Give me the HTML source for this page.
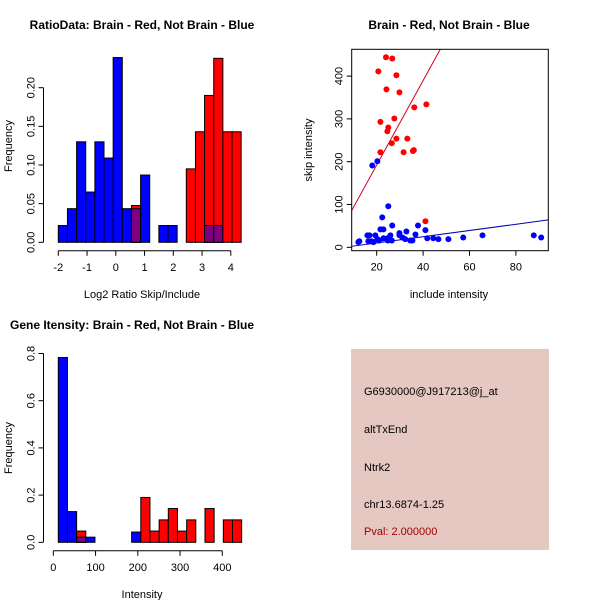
<!DOCTYPE html>
<html><head><meta charset="utf-8"><style>
body{margin:0;background:#fff}
svg{display:block;font-family:"Liberation Sans",sans-serif}
</style></head><body>
<svg id="c" width="600" height="600" viewBox="0 0 600 600" xmlns="http://www.w3.org/2000/svg">
<rect x="0" y="0" width="600" height="600" fill="#fff"/>
<text x="142" y="29" font-size="12" font-weight="bold" text-anchor="middle">RatioData: Brain - Red, Not Brain - Blue</text>
<text x="449" y="29" font-size="12" font-weight="bold" text-anchor="middle">Brain - Red, Not Brain - Blue</text>
<text x="10" y="329" font-size="12" font-weight="bold">Gene Itensity: Brain - Red, Not Brain - Blue</text>
<g>
<rect x="351" y="349" width="198" height="201" fill="#e6c8c2"/>
<g font-size="11">
<text x="364" y="395">G6930000@J917213@j_at</text>
<text x="364" y="433">altTxEnd</text>
<text x="364" y="471">Ntrk2</text>
<text x="364" y="508">chr13.6874-1.25</text>
<text x="364" y="535" fill="#a00000">Pval: 2.000000</text>
</g></g>
<g id="g1"></g>
<g id="g2"></g>
<g id="g3"></g>
</svg>
<script>
// ---- Ratio histogram data ----
const ratioBinStart = -2;
const ratioBinWidth = 0.318;
const ratioBlue = [0.0217,0.0435,0.130,0.065,0.130,0.109,0.239,0.0435,0.0435,0.087,0,0.0217,0.0217,0,0,0,0.0217,0.0217,0,0];
const ratioRed  = [0,0,0,0,0,0,0,0,0.0476,0,0,0,0,0,0.095,0.143,0.190,0.238,0.143,0.143];
const ratioXTicks = [-2,-1,0,1,2,3,4];
const ratioYTicks = [0,0.05,0.10,0.15,0.20];
const ratioYLabels = ["0.00","0.05","0.10","0.15","0.20"];
// ---- Scatter data ----
const redX = [24.0,26.7,20.7,28.5,24.2,29.8,36.2,41.4,21.6,27.6,25.0,24.6,28.5,33.2,26.5,21.6,31.6,35.6,36.0,41.0];
const redY = [444,441,411,402,369,362,327,334,293,301,280,271,254,254,243,222,222,225,227,61];
const blueX = [18.1,20.3,25.0,22.4,26.7,37.8,21.6,22.9,41.0,32.8,36.7,29.8,29.8,25.9,16.0,16.9,19.4,87.7,65.6,90.9,57.3,31.1,41.8,44.4,46.6,50.9,22.9,24.6,32.3,34.5,35.4,26.5,24.8,21.1,17.7,12.5,12.1,18.6,16.4,20.3];
const blueY = [191,201,96,70,51,51,42,42,40,37,30,33,28,28,28,28,28,28,28,23,23,23,21,21,19,19,21,21,19,16,16,16,16,16,14,14,12,12,14,19];
const fitIntercepts = [-5.2,-4.4];
const fitSlopes = [9.87,0.728];
const scatterXTicks = [20,40,60,80];
const scatterYTicks = [0,100,200,300,400];
// ---- Intensity histogram data ----
const intBinStart = 11.8;
const intBinWidth = 21.7;
const intBlue = [0.783,0.130,0.0217,0.0217,0,0,0,0,0.0435,0,0,0,0,0,0,0,0,0,0,0];
const intRed  = [0,0,0.0476,0,0,0,0,0,0,0.190,0.0476,0.095,0.143,0.0476,0.095,0,0.143,0,0.095,0.095];
const intXTicks = [0,100,200,300,400];
const intYTicks = [0,0.2,0.4,0.6,0.8];
const intYLabels = ["0.0","0.2","0.4","0.6","0.8"];

const NS="http://www.w3.org/2000/svg";
function mk(parent,tag,attrs,text){const e=document.createElementNS(NS,tag);for(const k in attrs)e.setAttribute(k,attrs[k]);if(text!==undefined)e.textContent=text;parent.appendChild(e);return e;}

function histogram(g,o){
  const sx=v=>o.x0+(v-o.vx0)*o.kx, sy=v=>o.y0-v*o.ky;
  for(let i=0;i<o.blue.length;i++){
    const a=o.start+i*o.width,b=a+o.width;
    const layers=[];
    if(o.blue[i]>0)layers.push([o.blue[i],"#0000ff"]);
    if(o.red[i]>0)layers.push([o.red[i],"#ff0000"]);
    if(o.blue[i]>0&&o.red[i]>0)layers.push([Math.min(o.blue[i],o.red[i]),"#7f007f"]);
    layers.forEach(L=>{
      const r=mk(g,"rect",{x:sx(a),y:sy(L[0]),width:sx(b)-sx(a),height:sy(0)-sy(L[0]),fill:L[1],stroke:"#000","stroke-width":1});
      
      
    });
  }
  const ax=o.y0+8.5;
  const xl=mk(g,"line",{x1:sx(o.xt[0]),x2:sx(o.xt[o.xt.length-1]),y1:ax,y2:ax,stroke:"#000"});
  
  
  o.xt.forEach(t=>{
    mk(g,"line",{x1:sx(t),x2:sx(t),y1:ax,y2:ax+5,stroke:"#000"});
    const tx=mk(g,"text",{x:sx(t),y:ax+20,"font-size":11,"text-anchor":"middle"},String(t));
    
    
  });
  const yx=o.yAxisX;
  const yl=mk(g,"line",{x1:yx,x2:yx,y1:sy(o.yt[0]),y2:sy(o.yt[o.yt.length-1]),stroke:"#000"});
  
  
  o.yt.forEach((t,i)=>{
    mk(g,"line",{x1:yx-5,x2:yx,y1:sy(t),y2:sy(t),stroke:"#000"});
    const tx=mk(g,"text",{x:yx-9,y:sy(t),"font-size":11,"text-anchor":"middle",transform:`rotate(-90 ${yx-9} ${sy(t)})`},o.yl[i]);
    
    
  });
  const xt=mk(g,"text",{x:o.xlabX,y:o.xlabY,"font-size":11,"text-anchor":"middle"},o.xlab);
  
  
  const yt=mk(g,"text",{x:12,y:o.ylabY,"font-size":11,"text-anchor":"middle",transform:`rotate(-90 12 ${o.ylabY})`},"Frequency");
  
  
}

histogram(document.getElementById("g1"),{blue:ratioBlue,red:ratioRed,start:ratioBinStart,width:ratioBinWidth,
  x0:58.3,vx0:-2,kx:28.75,y0:242.3,ky:773,xt:ratioXTicks,yt:ratioYTicks,yl:ratioYLabels,yAxisX:43.5,
  xlab:"Log2 Ratio Skip/Include",xlabX:142,xlabY:298,ylabY:146});
histogram(document.getElementById("g3"),{blue:intBlue,red:intRed,start:intBinStart,width:intBinWidth,
  x0:53.3,vx0:0,kx:0.4225,y0:542.3,ky:236,xt:intXTicks,yt:intYTicks,yl:intYLabels,yAxisX:43.5,
  xlab:"Intensity",xlabX:142,xlabY:598,ylabY:448});

// scatter
(function(){
  const g=document.getElementById("g2");
  const L=351.7,R=548.3,T=49.3,B=250.7;
  const sx=v=>330.3+v*2.32, sy=v=>247.3-v*0.428;
  const clip=mk(g,"clipPath",{id:"sc"});mk(clip,"rect",{x:L,y:T,width:R-L,height:B-T});
  const cols=["#cc0020","#0000b0"];
  fitIntercepts.forEach((a,i)=>{
    const x1=9.2,x2=94;
    const ln=mk(g,"line",{x1:sx(x1),y1:sy(a+fitSlopes[i]*x1),x2:sx(x2),y2:sy(a+fitSlopes[i]*x2),stroke:cols[i],"stroke-width":1,"clip-path":"url(#sc)"});
    
    
  });
  redX.forEach((x,i)=>{
    const c=mk(g,"circle",{cx:sx(x),cy:sy(redY[i]),r:3,fill:"#ff0000"});
    
    
  });
  blueX.forEach((x,i)=>{
    const c=mk(g,"circle",{cx:sx(x),cy:sy(blueY[i]),r:3,fill:"#0000ff"});
    
    
  });
  const fr=mk(g,"rect",{x:L,y:T,width:R-L,height:B-T,fill:"none",stroke:"#000"});
  
  
  scatterXTicks.forEach(t=>{
    mk(g,"line",{x1:sx(t),x2:sx(t),y1:B,y2:B+5,stroke:"#000"});
    const tx=mk(g,"text",{x:sx(t),y:B+20,"font-size":11,"text-anchor":"middle"},String(t));
    
    
  });
  scatterYTicks.forEach(t=>{
    mk(g,"line",{x1:L-5,x2:L,y1:sy(t),y2:sy(t),stroke:"#000"});
    const tx=mk(g,"text",{x:L-9,y:sy(t),"font-size":11,"text-anchor":"middle",transform:`rotate(-90 ${L-9} ${sy(t)})`},String(t));
    
    
  });
  const xt=mk(g,"text",{x:449,y:298,"font-size":11,"text-anchor":"middle"},"include intensity");
  
  
  const yt=mk(g,"text",{x:312,y:150,"font-size":11,"text-anchor":"middle",transform:"rotate(-90 312 150)"},"skip intensity");
  
  
})();
</script>
</body></html>
